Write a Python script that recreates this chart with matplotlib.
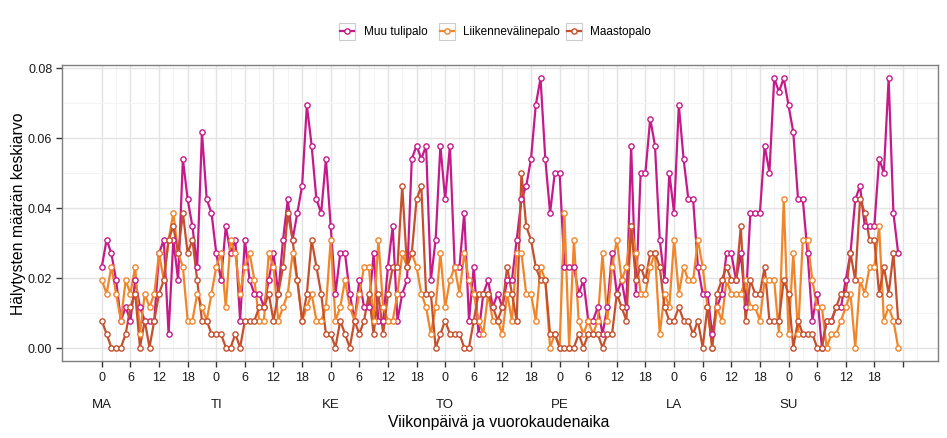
import numpy as np
import matplotlib
matplotlib.use("Agg")
import matplotlib.pyplot as plt
from matplotlib.lines import Line2D
from matplotlib.patches import Rectangle

plt.rcParams['font.family'] = ['Liberation Sans', 'DejaVu Sans']

days = ['MA', 'TI', 'KE', 'TO', 'PE', 'LA', 'SU']
hour_labels = ['0', '6', '12', '18']
series_names = ['Muu tulipalo', 'Liikennevälinepalo', 'Maastopalo']
colors = ['#C51B8A', '#F0862B', '#C4502E']

# halytysten lukumaarat tunneittain (MA 0 ... SU 23), keskiarvo = lukumaara / 260
N_WEEKS = 260
muu = [6, 8, 7, 5, 2, 3, 2, 5, 3, 2, 2, 2, 7, 8, 1, 8, 5, 14, 11, 9, 6, 16, 11, 10,
       7, 5, 9, 7, 8, 2, 8, 5, 4, 4, 3, 5, 7, 4, 8, 11, 8, 10, 12, 18, 15, 11, 10, 14,
       9, 4, 7, 7, 4, 2, 5, 3, 3, 7, 2, 2, 6, 9, 2, 4, 5, 14, 15, 14, 15, 5, 8, 15,
       11, 15, 6, 6, 10, 2, 6, 1, 4, 5, 3, 4, 3, 5, 5, 8, 11, 12, 14, 18, 20, 14, 10, 13,
       13, 6, 6, 6, 4, 5, 2, 2, 3, 1, 3, 7, 4, 5, 3, 15, 4, 13, 13, 17, 15, 8, 5, 13,
       10, 18, 14, 11, 11, 6, 4, 4, 1, 3, 4, 7, 7, 5, 7, 3, 10, 10, 10, 15, 13, 20, 19, 20,
       18, 16, 11, 11, 7, 2, 4, 0, 2, 2, 3, 3, 5, 7, 11, 12, 9, 9, 9, 14, 13, 20, 10, 7]
liikenne = [5, 4, 6, 4, 2, 5, 4, 6, 1, 4, 3, 4, 7, 5, 8, 10, 7, 6, 2, 2, 4, 3, 2, 4,
            6, 7, 3, 8, 7, 4, 6, 7, 5, 2, 2, 7, 6, 2, 3, 4, 7, 5, 2, 3, 4, 2, 2, 3,
            8, 2, 3, 5, 3, 2, 4, 6, 6, 2, 8, 3, 2, 2, 4, 7, 6, 7, 6, 4, 3, 1, 3, 7,
            3, 5, 6, 4, 7, 5, 4, 2, 1, 4, 2, 2, 1, 4, 2, 7, 7, 4, 4, 2, 6, 5, 0, 1,
            0, 10, 0, 8, 2, 1, 2, 1, 2, 7, 2, 6, 8, 5, 6, 9, 7, 4, 4, 6, 7, 1, 4, 3,
            8, 4, 6, 5, 5, 8, 6, 3, 0, 3, 2, 5, 4, 4, 4, 5, 3, 3, 2, 5, 5, 5, 1, 11,
            1, 7, 1, 8, 8, 5, 3, 3, 0, 1, 1, 2, 3, 4, 0, 5, 4, 6, 6, 9, 2, 3, 2, 0]
maasto = [2, 1, 0, 0, 0, 1, 3, 4, 0, 2, 0, 2, 4, 5, 8, 9, 7, 10, 7, 8, 5, 2, 2, 1,
          1, 1, 0, 0, 1, 0, 2, 2, 2, 3, 3, 4, 2, 4, 6, 10, 8, 5, 2, 4, 8, 6, 4, 1,
          1, 0, 2, 1, 0, 2, 1, 2, 4, 1, 4, 1, 4, 6, 6, 12, 6, 7, 11, 12, 4, 4, 0, 1,
          2, 1, 1, 1, 0, 0, 2, 4, 4, 4, 3, 2, 3, 6, 4, 2, 13, 9, 8, 6, 5, 5, 1, 1,
          0, 0, 0, 0, 1, 0, 1, 1, 1, 0, 1, 1, 4, 3, 2, 9, 5, 6, 5, 7, 7, 6, 3, 2,
          2, 3, 2, 2, 1, 2, 0, 3, 0, 4, 5, 6, 5, 5, 9, 2, 5, 4, 4, 6, 2, 2, 2, 5,
          4, 0, 2, 1, 1, 1, 0, 0, 2, 2, 3, 4, 4, 7, 5, 11, 10, 8, 8, 4, 6, 4, 7, 2]

series = [np.array(s) / N_WEEKS for s in (muu, liikenne, maasto)]
hours = np.arange(len(muu))

W, H = 947, 439
fig = plt.figure(figsize=(W / 100, H / 100), dpi=100)
ax = fig.add_axes([62 / W, 1 - 362 / H, (938 - 62) / W, (362 - 65.7) / H])

for s, c in zip(series, colors):
    ax.plot(hours, s, color=c, lw=1.6, zorder=2)
for s, c in zip(series, colors):
    ax.plot(hours, s, ls='none', marker='o', ms=3.8, mfc='white', mec=c, mew=1.0, zorder=3)

ax.set_xlim(-8.35, 175.35)
ax.set_ylim(-0.00385, 0.0808)

ax.set_xticks(np.arange(0, 169, 6))
ax.set_xticklabels(hour_labels * 7 + [''])
ax.set_xticks(np.arange(3, 175, 6), minor=True)
ax.set_yticks([0, 0.02, 0.04, 0.06, 0.08])
ax.set_yticklabels(['0.00', '0.02', '0.04', '0.06', '0.08'])
ax.set_yticks([0.01, 0.03, 0.05, 0.07], minor=True)

ax.grid(which='major', color='#E3E3E3', lw=1.0, zorder=0)
ax.grid(which='minor', color='#F3F3F3', lw=0.6, zorder=0)
ax.set_axisbelow(True)
ax.tick_params(which='major', length=4, width=1, color='#333333', labelsize=9,
               labelcolor='#1a1a1a', pad=3)
ax.tick_params(which='minor', length=0)
for sp in ax.spines.values():
    sp.set_color('#7F7F7F')
    sp.set_linewidth(1.0)

# paivien nimet akselin alle
for i, d in enumerate(days):
    ax.text(i * 24, -0.145, d, transform=ax.get_xaxis_transform(), ha='center', va='center',
            fontsize=9.5, color='#1a1a1a')

fig.text(499 / W, 1 - 423 / H, 'Viikonpäivä ja vuorokaudenaika', ha='center', va='center', fontsize=11.3)
fig.text(19 / W, 1 - 214 / H, 'Hälytysten määrän keskiarvo', ha='center', va='center',
         rotation=90, fontsize=11.3)

# legenda ylhaalla, jokainen avain omassa laatikossaan
key_x = [339, 439, 566]
text_x = [364, 463, 590]
ky = 32
for kx, tx, name, c in zip(key_x, text_x, series_names, colors):
    fig.patches.append(Rectangle((kx / W, 1 - (ky + 8.5) / H), 16 / W, 17 / H,
                                 transform=fig.transFigure, fill=False, ec='#CCCCCC', lw=0.8))
    fig.lines.append(Line2D([(kx + 1) / W, (kx + 15) / W], [1 - ky / H, 1 - ky / H],
                            transform=fig.transFigure, color=c, lw=1.6))
    fig.lines.append(Line2D([(kx + 8) / W], [1 - ky / H], transform=fig.transFigure, ls='none',
                            marker='o', ms=3.8, mfc='white', mec=c, mew=1.0))
    fig.text(tx / W, 1 - ky / H, name, ha='left', va='center', fontsize=8.5)

fig.savefig('out.png', dpi=100)
